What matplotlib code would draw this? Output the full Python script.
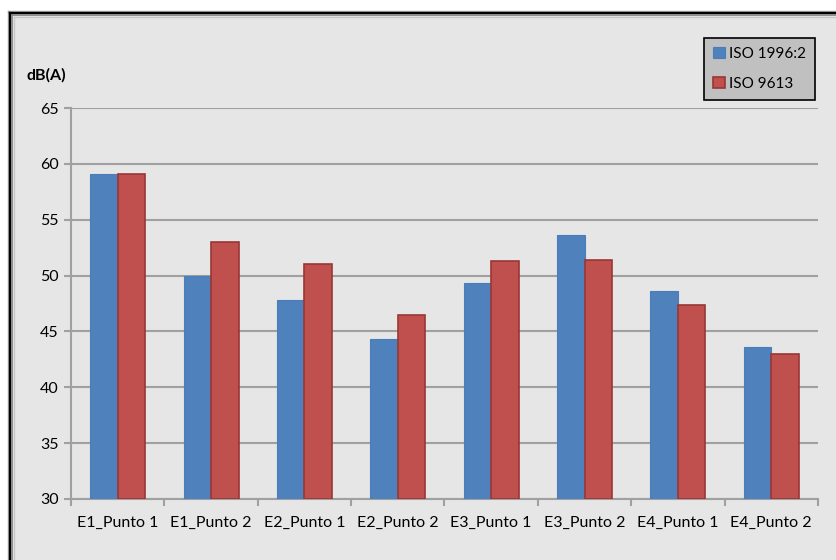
import matplotlib
matplotlib.use("Agg")
import matplotlib.pyplot as plt
from matplotlib.patches import Rectangle
import numpy as np

plt.rcParams['font.family'] = ['Lato', 'DejaVu Sans']

categories = ["E1_Punto 1", "E1_Punto 2", "E2_Punto 1", "E2_Punto 2",
              "E3_Punto 1", "E3_Punto 2", "E4_Punto 1", "E4_Punto 2"]
iso_1996 = [59.1, 50.0, 47.8, 44.3, 49.3, 53.6, 48.6, 43.6]
iso_9613 = [59.1, 53.0, 51.0, 46.5, 51.3, 51.4, 47.4, 43.0]
series_names = ["ISO 1996:2", "ISO 9613"]
y_ticks = [30, 35, 40, 45, 50, 55, 60, 65]

W, H = 837, 560
fig = plt.figure(figsize=(W / 100, H / 100), dpi=100, facecolor="white")


def px(x, y):
    return x / W, 1 - y / H


# chart area background and its framed border (clipped at right/bottom)
bg = Rectangle(px(9, 600), (900 - 9) / W, (600 - 11) / H, transform=fig.transFigure,
               facecolor="#E6E6E6", edgecolor="none", zorder=-10)
fig.patches.append(bg)
for off, col, lw in [(8.5, "#A0A0A0", 1.0), (10.5, "#000000", 1.6), (12.5, "#7F7F7F", 1.2),
                     (14.0, "#C8C8C8", 1.0)]:
    fig.add_artist(plt.Line2D([off / W, off / W], [0, 1 - (off + 2.5) / H], transform=fig.transFigure,
                              color=col, lw=lw, zorder=-5))
    fig.add_artist(plt.Line2D([off / W, 1], [1 - (off + 2.5) / H, 1 - (off + 2.5) / H],
                              transform=fig.transFigure, color=col, lw=lw, zorder=-5))

left, right, bottom, top = 71, 818, 499, 108
ax = fig.add_axes([left / W, 1 - bottom / H, (right - left) / W, (bottom - top) / H])
ax.set_facecolor("none")

x = np.arange(len(categories))
bw = 0.295
ax.bar(x - bw / 2, [v - 30 for v in iso_1996], bw, bottom=30, color="#4F81BD",
       edgecolor="#4A7EBB", linewidth=0.8, label=series_names[0], zorder=3)
ax.bar(x + bw / 2, [v - 30 for v in iso_9613], bw, bottom=30, color="#C0504D",
       edgecolor="#983735", linewidth=1.2, label=series_names[1], zorder=3)

ax.set_xlim(-0.5, len(categories) - 0.5)
ax.set_ylim(30, 65)
ax.set_yticks(y_ticks)
ax.set_yticklabels([str(t) for t in y_ticks], fontsize=11.5)
ax.yaxis.grid(True, color="#A0A0A0", lw=1.5, zorder=1)
ax.set_axisbelow(True)

ax.set_xticks(x)
ax.set_xticklabels(categories, fontsize=11.5)
ax.set_xticks(np.arange(-0.5, len(categories) + 0.5, 1), minor=True)
ax.tick_params(axis="x", which="major", length=0, pad=12)
ax.tick_params(axis="x", which="minor", length=5, width=1.5, color="#A0A0A0", direction="out")
ax.tick_params(axis="y", length=5, width=1.5, color="#A0A0A0", direction="out", pad=4)

for s in ["top", "right"]:
    ax.spines[s].set_visible(False)
for s in ["left", "bottom"]:
    ax.spines[s].set_color("#A0A0A0")
    ax.spines[s].set_linewidth(1.5)

fig.text(27 / W, 1 - 75 / H, "dB(A)", fontsize=11.5, fontweight="bold", va="center", ha="left")

leg = ax.legend(loc="upper left", bbox_to_anchor=(704 / W, 1 - 38 / H), bbox_transform=fig.transFigure,
                fontsize=11, frameon=True, fancybox=False, edgecolor="black", facecolor="#C0C0C0",
                framealpha=1, handlelength=0.75, handleheight=0.75, handletextpad=0.3,
                labelspacing=1.05, borderpad=0.6, borderaxespad=0)
leg.get_frame().set_linewidth(1.2)

fig.savefig("out.png", dpi=100, facecolor="white")
